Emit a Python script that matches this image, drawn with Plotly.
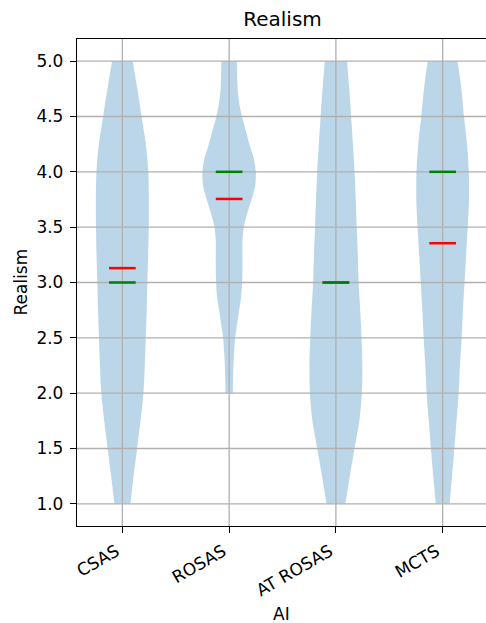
import plotly.graph_objects as go

categories = ["CSAS", "ROSAS", "AT ROSAS", "MCTS"]
positions = [1, 2, 3, 4]
means = [3.13, 3.755, 3.0, 3.355]
medians = [3.0, 4.0, 3.0, 4.0]

# violin outlines: value levels and half-widths (x data units)
csas_y = [1.0, 1.25, 1.5, 1.75, 2.0, 2.25, 2.5, 2.75, 3.0, 3.25, 3.5, 3.75, 4.0, 4.25, 4.5, 4.75, 5.0]
csas_w = [0.075, 0.105, 0.138, 0.17, 0.197, 0.21, 0.219, 0.228, 0.234, 0.242, 0.247, 0.248, 0.243, 0.22, 0.18, 0.14, 0.097]
rosas_y = [2.0, 2.25, 2.375, 2.5, 2.625, 2.75, 2.875, 3.0, 3.125, 3.25, 3.375, 3.5, 3.625, 3.75, 3.875, 4.0, 4.125, 4.25, 4.375, 4.5, 4.625, 4.75, 4.875, 5.0]
rosas_w = [0.034, 0.04, 0.047, 0.056, 0.075, 0.094, 0.113, 0.122, 0.125, 0.125, 0.125, 0.137, 0.17, 0.21, 0.244, 0.25, 0.23, 0.19, 0.155, 0.12, 0.094, 0.08, 0.075, 0.073]
atrosas_y = [1.0, 1.25, 1.5, 1.75, 2.0, 2.25, 2.5, 2.75, 3.0, 3.25, 3.5, 3.75, 4.0, 4.25, 4.5, 4.75, 5.0]
atrosas_w = [0.088, 0.13, 0.175, 0.22, 0.243, 0.248, 0.24, 0.228, 0.213, 0.205, 0.195, 0.186, 0.175, 0.16, 0.143, 0.125, 0.104]
mcts_y = [1.0, 1.25, 1.5, 1.75, 2.0, 2.25, 2.5, 2.75, 3.0, 3.25, 3.5, 3.75, 4.0, 4.25, 4.5, 4.75, 5.0]
mcts_w = [0.065, 0.088, 0.11, 0.13, 0.15, 0.162, 0.178, 0.19, 0.205, 0.22, 0.235, 0.247, 0.245, 0.228, 0.2, 0.175, 0.14]

outlines = [(csas_y, csas_w), (rosas_y, rosas_w), (atrosas_y, atrosas_w), (mcts_y, mcts_w)]

ytick_vals = [1.0, 1.5, 2.0, 2.5, 3.0, 3.5, 4.0, 4.5, 5.0]
ytick_text = ["1.0", "1.5", "2.0", "2.5", "3.0", "3.5", "4.0", "4.5", "5.0"]
xrange_ = [0.575, 4.406]
yrange_ = [0.8, 5.2]

FONT = "DejaVu Sans"
GRID = "#b0b0b0"
W, H = 486, 623
ML, MT, MB = 77, 39, 97
fig = go.Figure()

# violin bodies: left edge, then right edge filled back to it
for pos, (ys, ws) in zip(positions, outlines):
    fig.add_trace(go.Scatter(x=[pos - w for w in ws], y=ys, mode="lines",
                             line=dict(width=0, shape="spline", smoothing=0.8),
                             hoverinfo="skip", showlegend=False))
    fig.add_trace(go.Scatter(x=[pos + w for w in ws], y=ys, mode="lines", fill="tonextx",
                             fillcolor="rgba(31,119,180,0.3)",
                             line=dict(width=0, shape="spline", smoothing=0.8),
                             hoverinfo="skip", showlegend=False))

# grid lines (drawn above bodies, as in the reference)
for v in ytick_vals:
    fig.add_trace(go.Scatter(x=xrange_, y=[v, v], mode="lines", line=dict(color=GRID, width=1.3),
                             hoverinfo="skip", showlegend=False))
for p in positions:
    fig.add_trace(go.Scatter(x=[p, p], y=yrange_, mode="lines", line=dict(color=GRID, width=1.3),
                             hoverinfo="skip", showlegend=False))

# means (red) then medians (green)
for p, m in zip(positions, means):
    fig.add_trace(go.Scatter(x=[p - 0.125, p + 0.125], y=[m, m], mode="lines",
                             line=dict(color="#ff0000", width=2.5), showlegend=False))
for p, m in zip(positions, medians):
    fig.add_trace(go.Scatter(x=[p - 0.125, p + 0.125], y=[m, m], mode="lines",
                             line=dict(color="#008000", width=2.5), showlegend=False))

fig.update_layout(
    width=W, height=H,
    margin=dict(l=ML, r=0, t=MT, b=MB, autoexpand=False),
    plot_bgcolor="white", paper_bgcolor="white",
    font=dict(family=FONT, size=17, color="black"),
    title=dict(text="Realism", x=(ML + 488) / 2 / W, xref="container", xanchor="center",
               y=1 - 19 / H, yref="container", yanchor="middle",
               font=dict(family=FONT, size=20, color="black")),
    showlegend=False,
    annotations=[
        dict(text="AI", xref="paper", yref="paper", x=0.5, y=0, xanchor="center", yanchor="middle",
             yshift=-(614 - (H - MB)), showarrow=False, font=dict(family=FONT, size=17)),
        dict(text="Realism", xref="paper", yref="paper", x=0, y=0.5, xanchor="center", yanchor="middle",
             xshift=-(ML - 20), textangle=-90, showarrow=False, font=dict(family=FONT, size=17)),
    ],
)
fig.update_xaxes(range=xrange_, tickvals=positions, ticktext=categories, tickangle=-30, automargin=False,
                 showgrid=False, zeroline=False, showline=True, linecolor="black", linewidth=1.3,
                 mirror=True, ticks="outside", ticklen=6, tickwidth=1.3, tickcolor="black",
                 ticklabelshift=-6, ticklabelstandoff=2,
                 tickfont=dict(family=FONT, size=17))
fig.update_yaxes(range=yrange_, tickvals=ytick_vals, ticktext=ytick_text, automargin=False,
                 showgrid=False, zeroline=False, showline=True, linecolor="black", linewidth=1.3,
                 mirror=True, ticks="outside", ticklen=6, tickwidth=1.3, tickcolor="black",
                 ticklabelstandoff=3,
                 tickfont=dict(family=FONT, size=17))

fig.write_html("out.html", config={"displayModeBar": False},
               post_script="document.body.style.margin='0';")
